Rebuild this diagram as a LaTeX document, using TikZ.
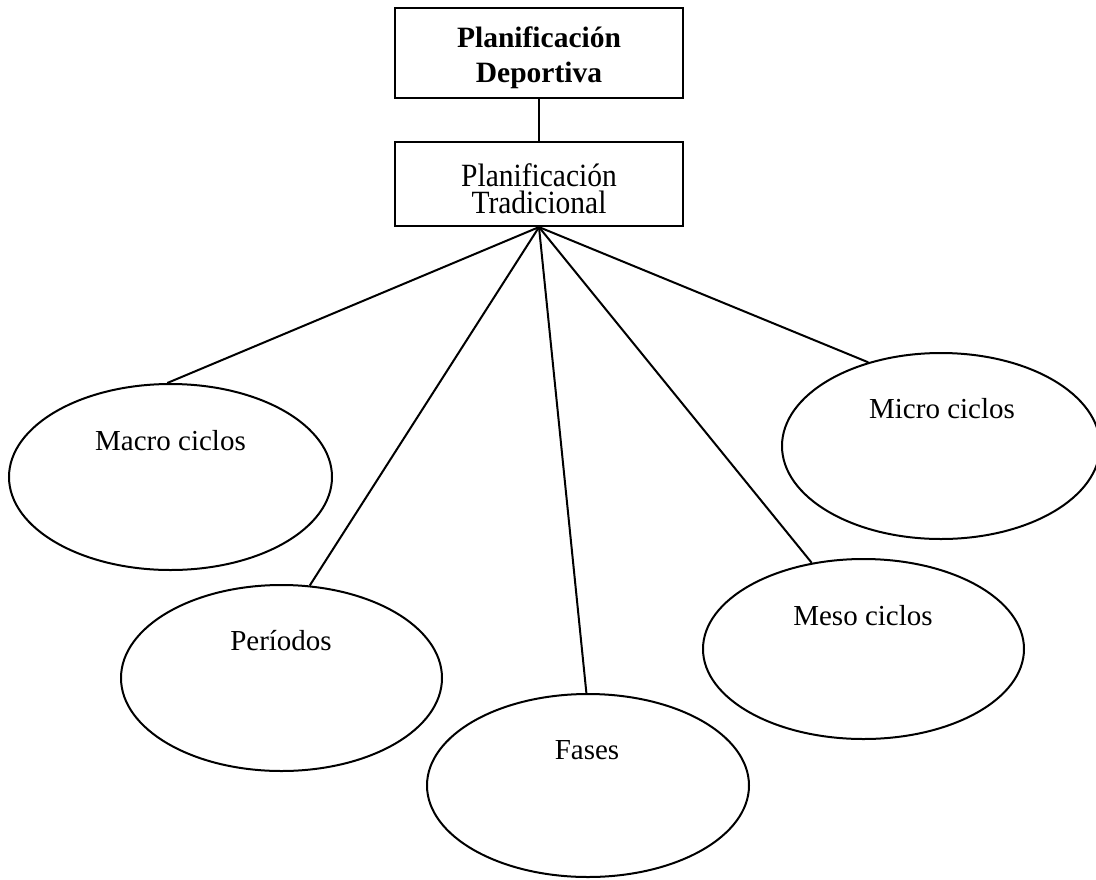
\documentclass[tikz,border=0pt]{standalone}
\usepackage{fontspec}
\setmainfont{Liberation Serif}
\usetikzlibrary{shapes.geometric}
\begin{document}
\begin{tikzpicture}[x=1pt,y=-1pt,
  boxnode/.style={draw, line width=2.2pt, rectangle, minimum width=288pt, inner sep=0pt},
  boxtext/.style={align=center, inner sep=0pt, anchor=base},
  oval/.style={draw, line width=2pt, ellipse, inner sep=0pt},
  lbl/.style={anchor=base, font=\fontsize{29}{35}\selectfont, inner sep=0pt},
  conn/.style={line width=2pt}]
\useasboundingbox (0,0) rectangle (1096,879);
\node[boxnode, minimum height=90pt] (dep) at (539,53) {};
\node[boxtext, font=\fontsize{29.5}{35}\selectfont\bfseries] (depl) at (539,82) {Planificación\\Deportiva};
\node[boxnode, minimum height=84pt] (trad) at (539,184) {};
\node[boxtext, font=\fontsize{29.5}{26.5}\selectfont] (tradl) at (539,213) {\scalebox{1}[1.1]{Planificación}\\\scalebox{1}[1.1]{Tradicional}};
\draw[conn] (dep.south) -- (trad.north);

\node[oval, minimum width=323pt, minimum height=186pt] (macro) at (170.5,477) {};
\node[oval, minimum width=321pt, minimum height=186pt] (periodos) at (281.5,678) {};
\node[oval, minimum width=322pt, minimum height=183pt] (fases) at (588,785.5) {};
\node[oval, minimum width=321pt, minimum height=180pt] (meso) at (863.5,649) {};
\node[oval, minimum width=318pt, minimum height=186pt] (micro) at (941,446) {};

\node[lbl] (macrol) at (170.5,450) {Macro ciclos};
\node[lbl] (periodosl) at (281,650) {Períodos};
\node[lbl] (fasesl) at (587,759) {Fases};
\node[lbl] (mesol) at (863,625) {Meso ciclos};
\node[lbl] (microl) at (942,418) {Micro ciclos};

\draw[conn] (trad.south) -- (macro.92.8);
\draw[conn] (trad.south) -- (periodos.73.5);
\draw[conn] (trad.south) -- (fases.91);
\draw[conn] (trad.south) -- (meso.121.8);
\draw[conn] (trad.south) -- (micro.131.3);
\end{tikzpicture}
\end{document}
